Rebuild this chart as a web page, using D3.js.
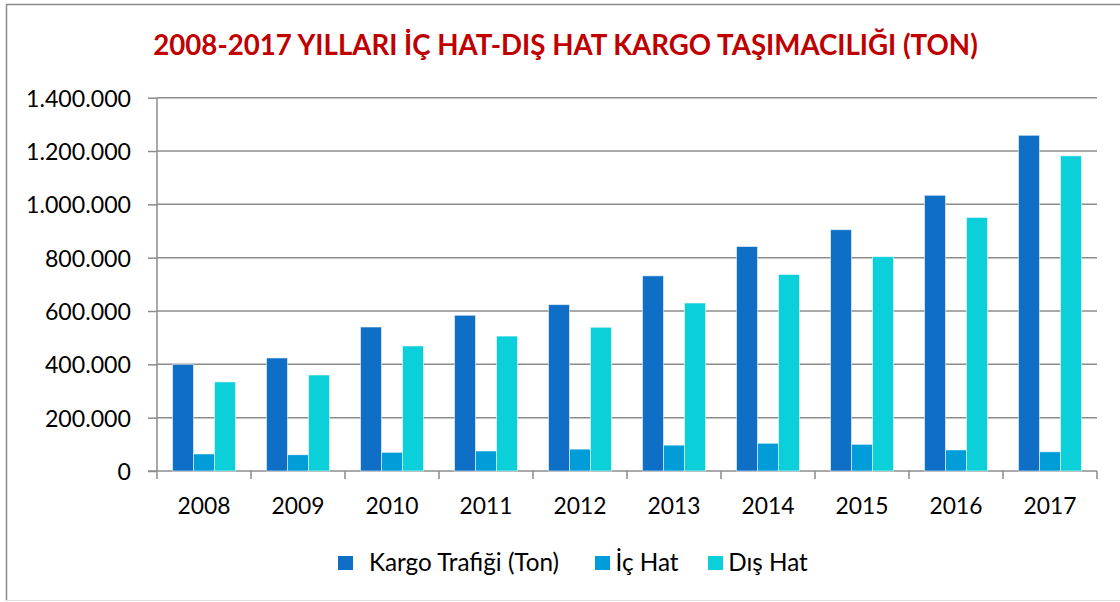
<!DOCTYPE html>
<html>
<head>
<meta charset="utf-8">
<script src="https://cdn.jsdelivr.net/npm/d3@7"></script>
<style>
  html, body { margin: 0; padding: 0; background: #fff; }
  svg { display: block; }
  text { font-family: Lato, "Open Sans", sans-serif; }
</style>
</head>
<body>
<svg id="chart" width="1120" height="602"></svg>
<script>
// ---- data ----
const years = ["2008","2009","2010","2011","2012","2013","2014","2015","2016","2017"];
const kargo = [400000, 424000, 540000, 584000, 624000, 732000, 842000, 905000, 1034000, 1259000];
const icHat = [64000, 61000, 70000, 75000, 82000, 97000, 104000, 100000, 79000, 72000];
const disHat = [334000, 360000, 469000, 506000, 539000, 630000, 737000, 804000, 951000, 1182000];
const seriesNames = ["Kargo Trafiği (Ton)", "İç Hat", "Dış Hat"];
const seriesColors = ["#0F6FC6", "#009DD9", "#0BD0D9"];
const yTicks = [0, 200000, 400000, 600000, 800000, 1000000, 1200000, 1400000];
const titleText = "2008-2017 YILLARI İÇ HAT-DIŞ HAT KARGO TAŞIMACILIĞI (TON)";

const svg = d3.select("#chart");

// helper to fit font-size to a target width
function fitSize(str, weight, target) {
  const t = svg.append("text").attr("font-size", 100).attr("font-weight", weight).text(str);
  const w = t.node().getComputedTextLength();
  t.remove();
  return 100 * target / w;
}

// frame
svg.append("line").attr("x1", 6.5).attr("x2", 6.5).attr("y1", 4.5).attr("y2", 601)
  .attr("stroke", "#8a8a8a").attr("stroke-width", 1.5);
svg.append("line").attr("x1", 6).attr("x2", 1120).attr("y1", 4.5).attr("y2", 4.5)
  .attr("stroke", "#8a8a8a").attr("stroke-width", 1.5);
svg.append("line").attr("x1", 6).attr("x2", 1120).attr("y1", 600.5).attr("y2", 600.5)
  .attr("stroke", "#e0e0e0").attr("stroke-width", 1);

// scales
const plot = { left: 157, right: 1097, top: 97.7, bottom: 471 };
const x0 = d3.scaleBand().domain(years).range([plot.left, plot.right])
  .paddingInner(0.33).paddingOuter(0.165);
const x1 = d3.scaleBand().domain(seriesNames).range([0, x0.bandwidth()]).padding(0);
const y = d3.scaleLinear().domain([0, 1400000]).range([plot.bottom, plot.top]);

const fmt = v => d3.format(",")(v).replace(/,/g, ".");

// gridlines
svg.append("g").selectAll("line").data(yTicks.filter(d => d > 0)).join("line")
  .attr("x1", plot.left).attr("x2", plot.right)
  .attr("y1", d => y(d)).attr("y2", d => y(d))
  .attr("stroke", "#8c8c8c").attr("stroke-width", 1.5);

// y axis
const yFont = fitSize("1.400.000", 400, 105);
const yAxis = svg.append("g").attr("transform", `translate(${plot.left},0)`)
  .call(d3.axisLeft(y).tickValues(yTicks).tickFormat(fmt).tickSize(9).tickPadding(17));
yAxis.select(".domain").attr("stroke", "#8c8c8c").attr("stroke-width", 1.5)
  .attr("d", `M0,${plot.top}V${plot.bottom}`);
yAxis.selectAll(".tick line").attr("stroke", "#8c8c8c").attr("stroke-width", 1.5);
yAxis.selectAll(".tick text").attr("font-size", yFont).attr("fill", "#000")
  .attr("font-family", "Lato, sans-serif").attr("dy", "0.36em");

// x axis
const xFont = fitSize("2008", 400, 53);
const xAxis = svg.append("g").attr("transform", `translate(0,${plot.bottom})`)
  .call(d3.axisBottom(x0).tickSize(0).tickPadding(0));
xAxis.select(".domain").attr("stroke", "#8c8c8c").attr("stroke-width", 1.5)
  .attr("d", `M${plot.left - 9},0H${plot.right}`);
xAxis.selectAll(".tick text").attr("font-size", xFont).attr("fill", "#000")
  .attr("font-family", "Lato, sans-serif").attr("dy", null).attr("y", 43);
// category boundary ticks
const bounds = years.map((d, i) => plot.left + i * x0.step()).concat([plot.right]);
xAxis.append("g").selectAll("line").data(bounds).join("line")
  .attr("x1", d => d).attr("x2", d => d).attr("y1", 0).attr("y2", 8)
  .attr("stroke", "#8c8c8c").attr("stroke-width", 1.5);

// bars
const rows = years.map((yr, i) => ({ year: yr, vals: [kargo[i], icHat[i], disHat[i]] }));
svg.append("g").selectAll("g").data(rows).join("g")
  .attr("transform", d => `translate(${x0(d.year)},0)`)
  .selectAll("rect").data(d => d.vals.map((v, j) => ({ name: seriesNames[j], v, j })))
  .join("rect")
  .attr("x", d => x1(d.name)).attr("width", x1.bandwidth())
  .attr("y", d => y(d.v)).attr("height", d => y(0) - y(d.v))
  .attr("fill", d => seriesColors[d.j])
  .attr("stroke", "#ffffff").attr("stroke-opacity", 0.55).attr("stroke-width", 1);

// title
const tFont = fitSize(titleText, 700, 825);
svg.append("text").attr("x", 565.5).attr("y", 55).attr("text-anchor", "middle")
  .attr("font-size", tFont).attr("font-weight", 700).attr("fill", "#C00000")
  .text(titleText);

// legend
const lFont = fitSize(seriesNames.join(""), 400, 198 + 60 + 75);
const legendSq = [338, 595, 708];
const legendTextCenter = [464, 647, 768];
const lg = svg.append("g");
seriesNames.forEach((n, i) => {
  lg.append("rect").attr("x", legendSq[i]).attr("y", 556).attr("width", 15).attr("height", 14)
    .attr("fill", seriesColors[i]);
  lg.append("text").attr("x", legendTextCenter[i]).attr("y", 571).attr("font-size", lFont)
    .attr("text-anchor", "middle").attr("fill", "#000").text(n);
});
</script>
</body>
</html>
